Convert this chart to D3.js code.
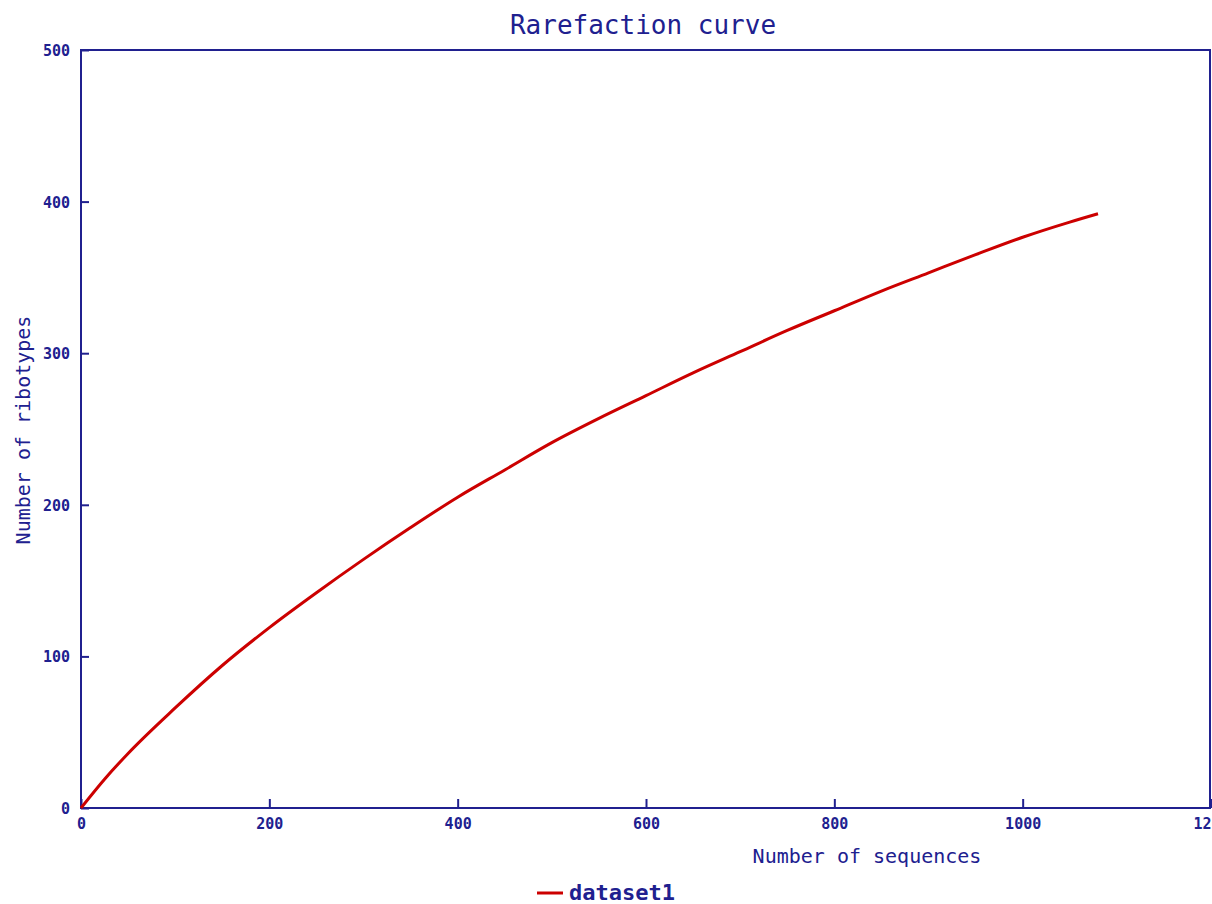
<!DOCTYPE html>
<html>
<head>
<meta charset="utf-8">
<script src="https://cdn.jsdelivr.net/npm/d3@7"></script>
<style>
  html, body { margin: 0; padding: 0; background: #fff; }
  svg { display: block; }
  text { font-family: "DejaVu Sans Mono", "Liberation Mono", monospace; fill: #20208f; }
</style>
</head>
<body>
<svg id="chart" width="1212" height="904"></svg>
<script>
// Rarefaction curve: number of ribotypes observed vs. number of sequences sampled
const sequences = [0, 25, 50, 100, 150, 200, 250, 300, 350, 400, 450, 500, 550, 600,
                   650, 700, 750, 800, 850, 900, 950, 1000, 1050, 1080];
const ribotypes = [0, 19, 36, 66, 94, 119, 142, 164, 185, 205, 223, 241, 257, 272,
                   287, 301, 315, 328, 341, 353, 365, 376.5, 386.5, 392];
const xTicks = [0, 200, 400, 600, 800, 1000, 1200];
const yTicks = [0, 100, 200, 300, 400, 500];
const seriesName = "dataset1";

const navy = "#20208f";
const red = "#cc0000";

const svg = d3.select("#chart");
const plotLeft = 81, plotRight = 1211, plotTop = 50, plotBottom = 808;

const x = d3.scaleLinear().domain([0, 1200]).range([plotLeft, plotRight]);
const y = d3.scaleLinear().domain([0, 500]).range([plotBottom, plotTop]);

// Plot frame
svg.append("rect")
  .attr("x", plotLeft).attr("y", plotTop)
  .attr("width", 1210 - plotLeft).attr("height", plotBottom - plotTop)
  .attr("fill", "none").attr("stroke", navy).attr("stroke-width", 2);

// Y axis: ticks point inward, labels on the left
const yAxis = d3.axisLeft(y).tickValues(yTicks).tickSize(-8).tickPadding(11).tickFormat(d3.format("d"));
const gy = svg.append("g").attr("transform", `translate(${plotLeft},0)`).call(yAxis);
gy.select(".domain").remove();
gy.selectAll(".tick line").attr("stroke", navy).attr("stroke-width", 2);
gy.selectAll(".tick text")
  .style("font-family", '"DejaVu Sans Mono", monospace')
  .style("font-size", "15px").style("font-weight", "bold")
  .attr("fill", navy).attr("dy", "0.36em");

// X axis: ticks point upward, labels below
const xAxis = d3.axisBottom(x).tickValues(xTicks).tickSize(-9).tickPadding(10).tickFormat(d3.format("d"));
const gx = svg.append("g").attr("transform", `translate(0,${plotBottom})`).call(xAxis);
gx.select(".domain").remove();
gx.selectAll(".tick line").attr("stroke", navy).attr("stroke-width", 2);
gx.selectAll(".tick text")
  .style("font-family", '"DejaVu Sans Mono", monospace')
  .style("font-size", "15px").style("font-weight", "bold")
  .attr("fill", navy).attr("dy", "0.75em");

// Curve
const line = d3.line().x((d, i) => x(sequences[i])).y(d => y(d)).curve(d3.curveMonotoneX);
svg.append("path")
  .datum(ribotypes)
  .attr("d", line)
  .attr("fill", "none")
  .attr("stroke", red)
  .attr("stroke-width", 3);

// Title
svg.append("text")
  .attr("x", 643).attr("y", 34)
  .attr("text-anchor", "middle")
  .style("font-size", "26px")
  .text("Rarefaction curve");

// Axis titles
svg.append("text")
  .attr("x", 867).attr("y", 863)
  .attr("text-anchor", "middle")
  .style("font-size", "20px")
  .text("Number of sequences");

svg.append("text")
  .attr("transform", "translate(30,430) rotate(-90)")
  .attr("text-anchor", "middle")
  .style("font-size", "20px")
  .text("Number of ribotypes");

// Legend
svg.append("line")
  .attr("x1", 537).attr("x2", 563)
  .attr("y1", 893).attr("y2", 893)
  .attr("stroke", red).attr("stroke-width", 3);
svg.append("text")
  .attr("x", 569).attr("y", 900)
  .style("font-size", "22px").style("font-weight", "bold")
  .text(seriesName);
</script>
</body>
</html>
